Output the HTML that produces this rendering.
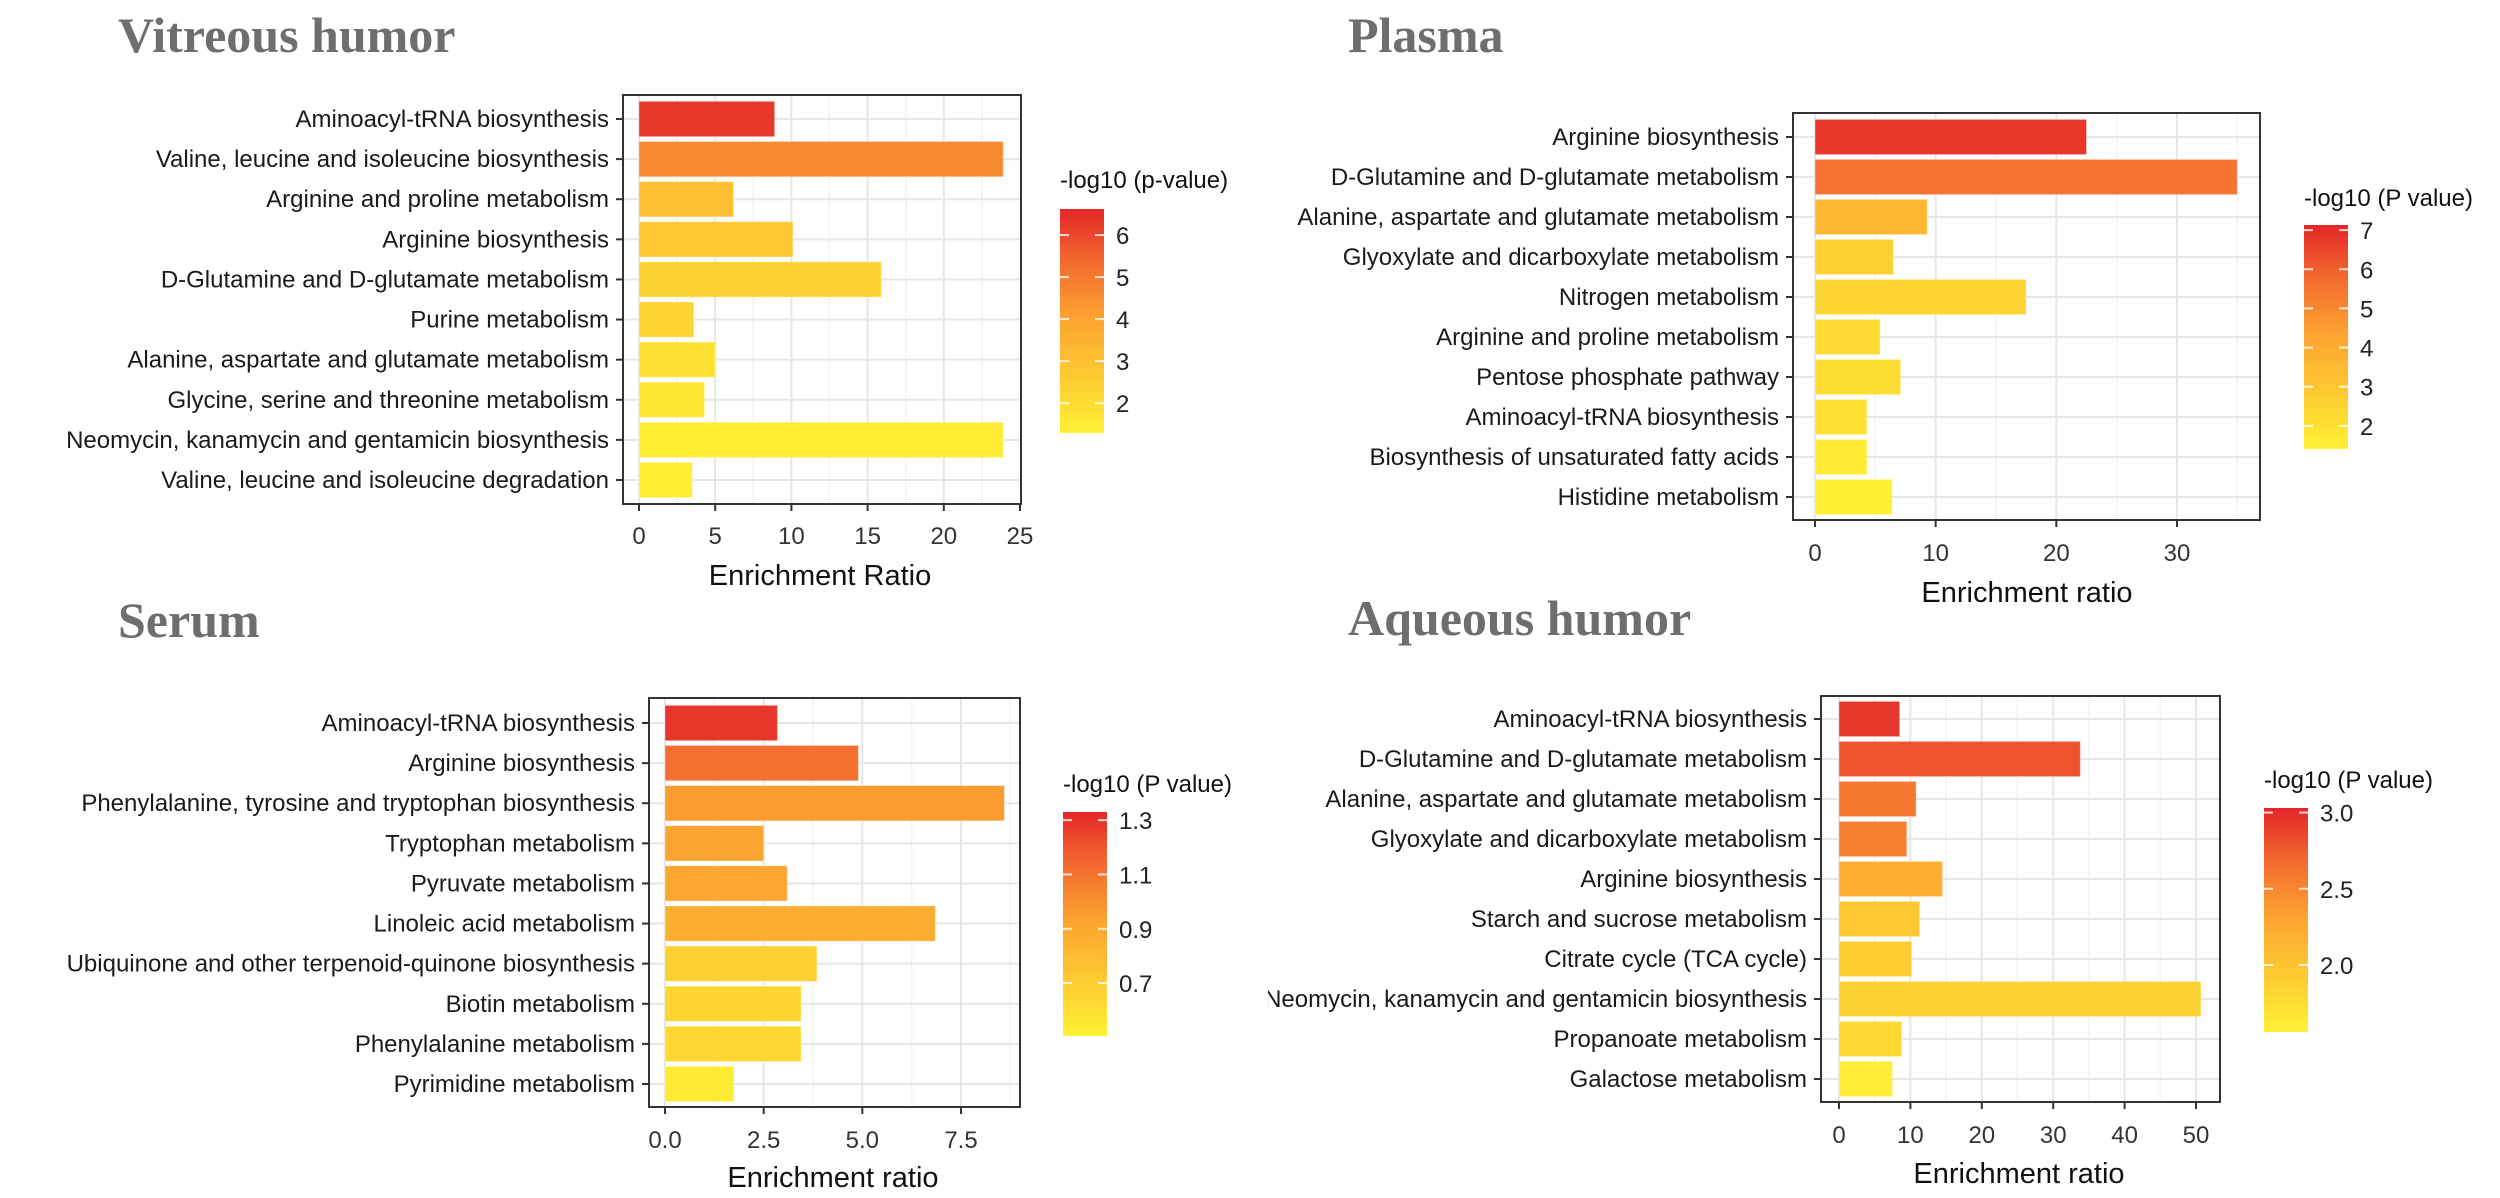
<!DOCTYPE html>
<html><head><meta charset="utf-8"><style>
html,body{margin:0;padding:0;background:#fff;}
svg{display:block;font-family:"Liberation Sans",Arial,sans-serif;}
.title{font-family:"Liberation Serif",serif;font-weight:bold;fill:#6e6e6e;font-size:50px;}
</style></head><body>
<svg id="chart" width="2500" height="1198" viewBox="0 0 2500 1198" xmlns="http://www.w3.org/2000/svg">
<defs></defs>
</svg>
<script>
// ---- Vitreous humor ----
const vitCategories = ["Aminoacyl-tRNA biosynthesis","Valine, leucine and isoleucine biosynthesis","Arginine and proline metabolism","Arginine biosynthesis","D-Glutamine and D-glutamate metabolism","Purine metabolism","Alanine, aspartate and glutamate metabolism","Glycine, serine and threonine metabolism","Neomycin, kanamycin and gentamicin biosynthesis","Valine, leucine and isoleucine degradation"];
const vitRatio = [8.9,23.9,6.2,10.1,15.9,3.6,5.0,4.3,23.9,3.5];
const vitLogP = [6.3,4.6,3.0,2.8,2.4,2.2,1.8,1.6,1.4,1.4];
const vitXTicks = [0,5,10,15,20,25];
const vitLegendTicks = [2,3,4,5,6];
// ---- Plasma ----
const plaCategories = ["Arginine biosynthesis","D-Glutamine and D-glutamate metabolism","Alanine, aspartate and glutamate metabolism","Glyoxylate and dicarboxylate metabolism","Nitrogen metabolism","Arginine and proline metabolism","Pentose phosphate pathway","Aminoacyl-tRNA biosynthesis","Biosynthesis of unsaturated fatty acids","Histidine metabolism"];
const plaRatio = [22.5,35,9.3,6.5,17.5,5.4,7.1,4.3,4.3,6.4];
const plaLogP = [6.8,5.6,3.6,2.6,2.4,2.2,2.1,2.0,1.6,1.45];
const plaXTicks = [0,10,20,30];
const plaLegendTicks = [2,3,4,5,6,7];
// ---- Serum ----
const serCategories = ["Aminoacyl-tRNA biosynthesis","Arginine biosynthesis","Phenylalanine, tyrosine and tryptophan biosynthesis","Tryptophan metabolism","Pyruvate metabolism","Linoleic acid metabolism","Ubiquinone and other terpenoid-quinone biosynthesis","Biotin metabolism","Phenylalanine metabolism","Pyrimidine metabolism"];
const serRatio = [2.85,4.9,8.6,2.5,3.1,6.85,3.85,3.45,3.45,1.75];
const serLogP = [1.28,1.12,0.95,0.92,0.9,0.87,0.68,0.66,0.64,0.53];
const serXTicks = [0,2.5,5,7.5];
const serXTickLabels = ["0.0","2.5","5.0","7.5"];
const serLegendTicks = [0.7,0.9,1.1,1.3];
// ---- Aqueous humor ----
const aqCategories = ["Aminoacyl-tRNA biosynthesis","D-Glutamine and D-glutamate metabolism","Alanine, aspartate and glutamate metabolism","Glyoxylate and dicarboxylate metabolism","Arginine biosynthesis","Starch and sucrose metabolism","Citrate cycle (TCA cycle)","Neomycin, kanamycin and gentamicin biosynthesis","Propanoate metabolism","Galactose metabolism"];
const aqRatio = [8.5,33.8,10.8,9.5,14.5,11.3,10.2,50.7,8.8,7.5];
const aqLogP = [2.95,2.8,2.6,2.55,2.2,1.95,1.9,1.85,1.8,1.6];
const aqXTicks = [0,10,20,30,40,50];
const aqLegendTicks = [2.0,2.5,3.0];

const panels = [
 {key:"vitreous",title:"Vitreous humor",tx:118,ty:52,cats:vitCategories,vals:vitRatio,lp:vitLogP,xt:vitXTicks,xl:vitXTicks.map(String),
  L:623,R:1021,T:95,B:504,x0:639,xmax:25,xmaxPx:1020,r0:119,r1:480,ax:"Enrichment Ratio",axY:575,axX:820,tickY:536,
  lt:vitLegendTicks,ltl:vitLegendTicks.map(String),legT:"-log10 (p-value)",lgX:1060,lgTitleY:188,cbT:209,cbB:433,lmin:1.29,lmax:6.62,clipL:0},
 {key:"plasma",title:"Plasma",tx:1348,ty:52,cats:plaCategories,vals:plaRatio,lp:plaLogP,xt:plaXTicks,xl:plaXTicks.map(String),
  L:1793,R:2260,T:113,B:520,x0:1815,xmax:30,xmaxPx:2177,r0:137,r1:497,ax:"Enrichment ratio",axY:592,axX:2027,tickY:553,
  lt:plaLegendTicks,ltl:plaLegendTicks.map(String),legT:"-log10 (P value)",lgX:2304,lgTitleY:206,cbT:225,cbB:449,lmin:1.41,lmax:7.13,clipL:1250},
 {key:"serum",title:"Serum",tx:118,ty:637,cats:serCategories,vals:serRatio,lp:serLogP,xt:serXTicks,xl:serXTickLabels,
  L:649,R:1020,T:698,B:1107,x0:665,xmax:7.5,xmaxPx:961,r0:723,r1:1084,ax:"Enrichment ratio",axY:1177,axX:833,tickY:1140,
  lt:serLegendTicks,ltl:["0.7","0.9","1.1","1.3"],legT:"-log10 (P value)",lgX:1063,lgTitleY:792,cbT:812,cbB:1036,lmin:0.505,lmax:1.33,clipL:0},
 {key:"aqueous",title:"Aqueous humor",tx:1348,ty:635,cats:aqCategories,vals:aqRatio,lp:aqLogP,xt:aqXTicks,xl:aqXTicks.map(String),
  L:1821,R:2220,T:696,B:1102,x0:1839,xmax:50,xmaxPx:2196,r0:719,r1:1079,ax:"Enrichment ratio",axY:1173,axX:2019,tickY:1135,
  lt:aqLegendTicks,ltl:["2.0","2.5","3.0"],legT:"-log10 (P value)",lgX:2264,lgTitleY:788,cbT:808,cbB:1032,lmin:1.56,lmax:3.03,clipL:1268}
];

const NS="http://www.w3.org/2000/svg";
const svg=document.getElementById('chart');
const defs=svg.querySelector('defs');
function mk(tag,attrs,parent){const e=document.createElementNS(NS,tag);for(const k in attrs)e.setAttribute(k,attrs[k]);(parent||svg).appendChild(e);return e;}
const stops=[[0,[255,240,52]],[0.5,[252,165,48]],[0.75,[244,110,48]],[1,[228,38,40]]];
function colorAt(t){t=Math.max(0,Math.min(1,t));for(let i=1;i<stops.length;i++){if(t<=stops[i][0]){const a=stops[i-1],b=stops[i];const f=(t-a[0])/(b[0]-a[0]);const c=a[1].map((v,j)=>Math.round(v+(b[1][j]-v)*f));return `rgb(${c[0]},${c[1]},${c[2]})`;}}return 'rgb(228,38,40)';}

panels.forEach(p=>{
  const g=mk('g',{});
  
  
  const xs=v=>p.x0+(v/p.xmax)*(p.xmaxPx-p.x0);
  const n=p.cats.length;
  const ys=i=>p.r0+i*(p.r1-p.r0)/(n-1);
  const step=(p.r1-p.r0)/(n-1);
  const t=mk('text',{x:p.tx,y:p.ty,class:'title'},g);t.textContent=p.title;
  
  
  // panel bg
  mk('rect',{x:p.L,y:p.T,width:p.R-p.L,height:p.B-p.T,fill:'#fff'},g);
  // minor grid
  for(let i=0;i<p.xt.length;i++){const a=p.xt[i];const b=i+1<p.xt.length?p.xt[i+1]:a+(p.xt[1]-p.xt[0]);const m=(a+b)/2;const xm=xs(m);if(xm<p.R-1)mk('line',{x1:xm,x2:xm,y1:p.T,y2:p.B,stroke:'#f2f2f2','stroke-width':1.5},g);}
  p.xt.forEach(v=>{const x=xs(v);if(x<p.R-1)mk('line',{x1:x,x2:x,y1:p.T,y2:p.B,stroke:'#e6e6e6','stroke-width':2},g);});
  for(let i=0;i<n;i++)mk('line',{x1:p.L,x2:p.R,y1:ys(i),y2:ys(i),stroke:'#e6e6e6','stroke-width':2},g);
  // bars
  const bh=step*0.88;
  for(let i=0;i<n;i++){
    const tcol=(p.lp[i]-p.lmin)/(p.lmax-p.lmin);
    const r=mk('rect',{x:xs(0),y:ys(i)-bh/2,width:xs(p.vals[i])-xs(0),height:bh,fill:colorAt(tcol),stroke:'rgba(255,255,255,0.35)','stroke-width':1},g);
    
    
  }
  mk('rect',{x:p.L,y:p.T,width:p.R-p.L,height:p.B-p.T,fill:'none',stroke:'#333','stroke-width':2},g);
  // y labels
  const clipId='clip-'+p.key;
  const cp=mk('clipPath',{id:clipId},defs);mk('rect',{x:p.clipL,y:0,width:2500,height:1198},cp);
  const lg=mk('g',{'clip-path':`url(#${clipId})`},g);
  for(let i=0;i<n;i++){
    mk('line',{x1:p.L-7,x2:p.L,y1:ys(i),y2:ys(i),stroke:'#333','stroke-width':2},g);
    const tx=mk('text',{x:p.L-14,y:ys(i)+8,'text-anchor':'end','font-size':24,fill:'#1a1a1a'},lg);tx.textContent=p.cats[i];
    
    
  }
  // x ticks
  p.xt.forEach((v,i)=>{const x=xs(v);mk('line',{x1:x,x2:x,y1:p.B,y2:p.B+7,stroke:'#333','stroke-width':2},g);
    const tx=mk('text',{x:x,y:p.tickY+8,'text-anchor':'middle','font-size':24,fill:'#333'},g);tx.textContent=p.xl[i];
    
    });
  const at=mk('text',{x:p.axX,y:p.axY+10,'text-anchor':'middle','font-size':29,fill:'#111'},g);at.textContent=p.ax;
  
  
  // legend
  const gid='grad-'+p.key;
  const gr=mk('linearGradient',{id:gid,x1:0,y1:1,x2:0,y2:0},defs);
  for(let k=0;k<=10;k++)mk('stop',{offset:k/10,'stop-color':colorAt(k/10)},gr);
  const lt=mk('text',{x:p.lgX,y:p.lgTitleY,'font-size':24,fill:'#111'},g);lt.textContent=p.legT;
  
  
  const cb=mk('rect',{x:p.lgX,y:p.cbT,width:44,height:p.cbB-p.cbT,fill:`url(#${gid})`},g);
  
  
  const ly=v=>p.cbB-(v-p.lmin)/(p.lmax-p.lmin)*(p.cbB-p.cbT);
  p.lt.forEach((v,i)=>{const y=ly(v);
    mk('line',{x1:p.lgX,x2:p.lgX+9,y1:y,y2:y,stroke:'rgba(255,255,255,0.8)','stroke-width':2},g);
    mk('line',{x1:p.lgX+35,x2:p.lgX+44,y1:y,y2:y,stroke:'rgba(255,255,255,0.8)','stroke-width':2},g);
    const tx=mk('text',{x:p.lgX+56,y:y+9,'font-size':24,fill:'#222'},g);tx.textContent=p.ltl[i];
    
    });
});
</script>
</body></html>
